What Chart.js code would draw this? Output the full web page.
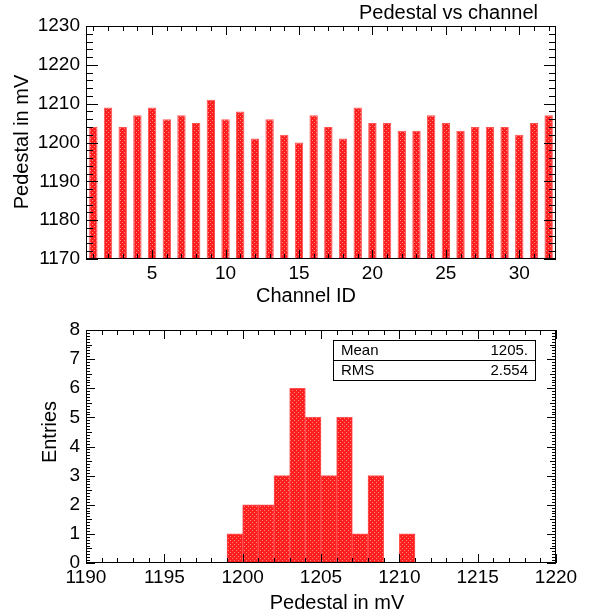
<!DOCTYPE html>
<html>
<head>
<meta charset="utf-8">
<script src="https://cdn.jsdelivr.net/npm/chart.js@4.4.0/dist/chart.umd.min.js"></script>
<style>
  body { margin: 0; background: #fff; }
  canvas { display: block; }
</style>
</head>
<body>
<canvas id="pedChart" width="589" height="310"></canvas>
<canvas id="histChart" width="589" height="305"></canvas>
<script>
// pedestal per channel
var channelIds = ['1','2','3','4','5','6','7','8','9','10','11','12','13','14','15','16',
                  '17','18','19','20','21','22','23','24','25','26','27','28','29','30','31','32'];
var pedestals = [1204, 1209, 1204, 1207, 1209, 1206, 1207, 1205, 1211, 1206, 1208, 1201, 1206, 1202, 1200, 1207,
                 1204, 1201, 1209, 1205, 1205, 1203, 1203, 1207, 1205, 1203, 1204, 1204, 1204, 1202, 1205, 1207];

// pedestal distribution, 1 mV bins
var binLowEdges = [1190, 1191, 1192, 1193, 1194, 1195, 1196, 1197, 1198, 1199,
                   1200, 1201, 1202, 1203, 1204, 1205, 1206, 1207, 1208, 1209,
                   1210, 1211, 1212, 1213, 1214, 1215, 1216, 1217, 1218, 1219];
var binCounts = [0, 0, 0, 0, 0, 0, 0, 0, 0, 1,
                 2, 2, 3, 6, 5, 3, 5, 1, 3, 0,
                 1, 0, 0, 0, 0, 0, 0, 0, 0, 0];
var statNames = ['Mean', 'RMS'];
var statValues = ['1205.', '2.554'];

var FONT = "'Liberation Sans', Arial, sans-serif";

// red dotted fill
function dotFill() {
    var c = document.createElement('canvas');
    c.width = 4; c.height = 4;
    var g = c.getContext('2d');
    g.fillStyle = '#ff1e1e';
    g.fillRect(0, 0, 4, 4);
    g.fillStyle = '#ff8a8a';
    g.fillRect(0, 0, 1, 1);
    g.fillRect(2, 2, 1, 1);
    return g.createPattern(c, 'repeat');
}

// frame around the plot area with inward ticks on all four sides
var frameTicks = {
    id: 'frameTicks',
    afterDraw: function(chart, args, opts) {
        var ctx = chart.ctx, a = chart.chartArea;
        ctx.save();
        ctx.strokeStyle = '#000';
        ctx.lineWidth = 1;
        ctx.beginPath();

        var tx = opts.x, xs = chart.scales.x;
        var n = Math.round((tx.to - tx.from) / tx.minor);
        for (var i = 0; i <= n; i++) {
            var v = tx.from + i * tx.minor;
            var len = Math.abs(v / tx.major - Math.round(v / tx.major)) < 1e-6 ? tx.majorLen : tx.minorLen;
            var px = Math.round(xs.getPixelForValue(v - tx.shift)) + 0.5;
            ctx.moveTo(px, a.bottom); ctx.lineTo(px, a.bottom - len);
            ctx.moveTo(px, a.top); ctx.lineTo(px, a.top + len);
        }

        var ty = opts.y, ys = chart.scales.y;
        n = Math.round((ty.to - ty.from) / ty.minor);
        for (i = 0; i <= n; i++) {
            v = ty.from + i * ty.minor;
            var r = v / ty.major;
            len = Math.abs(r - Math.round(r)) < 1e-6 ? ty.majorLen :
                  (ty.midLen && Math.abs(2 * r - Math.round(2 * r)) < 1e-6 ? ty.midLen : ty.minorLen);
            var py = Math.round(ys.getPixelForValue(v)) + 0.5;
            ctx.moveTo(a.left, py); ctx.lineTo(a.left + len, py);
            ctx.moveTo(a.right, py); ctx.lineTo(a.right - len, py);
        }
        ctx.stroke();
        ctx.strokeRect(Math.round(a.left) + 0.5, Math.round(a.top) + 0.5,
                       Math.round(a.right - a.left) - 1, Math.round(a.bottom - a.top) - 1);
        ctx.restore();
    }
};

// free text: titles and axis names
var texts = {
    id: 'texts',
    afterDraw: function(chart, args, opts) {
        var ctx = chart.ctx;
        ctx.save();
        ctx.fillStyle = '#000';
        ctx.font = opts.size + 'px ' + FONT;
        ctx.textBaseline = 'middle';
        opts.items.forEach(function(t) {
            ctx.save();
            ctx.translate(t.x, t.y);
            if (t.rotate) ctx.rotate(-Math.PI / 2);
            ctx.textAlign = t.align || 'center';
            ctx.fillText(t.text, 0, 0);
            ctx.restore();
        });
        ctx.restore();
    }
};

// statistics box
var statBox = {
    id: 'statBox',
    afterDraw: function(chart, args, opts) {
        var ctx = chart.ctx;
        var rowH = opts.rowH;
        ctx.save();
        ctx.fillStyle = '#fff';
        ctx.fillRect(opts.left, opts.top, opts.width, rowH * statNames.length);
        ctx.strokeStyle = '#000';
        ctx.lineWidth = 1;
        ctx.strokeRect(opts.left + 0.5, opts.top + 0.5, opts.width, rowH * statNames.length);
        ctx.font = opts.size + 'px ' + FONT;
        ctx.fillStyle = '#000';
        ctx.textBaseline = 'middle';
        for (var i = 0; i < statNames.length; i++) {
            var yc = opts.top + rowH * i + rowH / 2 + 1;
            if (i > 0) {
                ctx.beginPath();
                ctx.moveTo(opts.left, opts.top + rowH * i + 0.5);
                ctx.lineTo(opts.left + opts.width, opts.top + rowH * i + 0.5);
                ctx.stroke();
            }
            ctx.textAlign = 'left';
            ctx.fillText(statNames[i], opts.left + 8, yc);
            ctx.textAlign = 'right';
            ctx.fillText(statValues[i], opts.left + opts.width - 7, yc);
        }
        ctx.restore();
    }
};

var tickFont = { family: FONT, size: 19 };

new Chart(document.getElementById('pedChart'), {
    type: 'bar',
    data: {
        labels: channelIds,
        datasets: [{
            data: pedestals,
            backgroundColor: dotFill(),
            borderColor: '#ff5050',
            borderWidth: 1,
            borderSkipped: 'bottom',
            barPercentage: 0.57,
            categoryPercentage: 1
        }]
    },
    options: {
        responsive: false,
        animation: false,
        layout: { padding: { top: 26, right: 33, left: 0, bottom: 0 } },
        plugins: {
            legend: { display: false },
            tooltip: { enabled: false },
            frameTicks: {
                x: { from: 1, to: 32, minor: 1, major: 5, minorLen: 5, majorLen: 9, shift: 1 },
                y: { from: 1170, to: 1230, minor: 2, major: 10, minorLen: 7, majorLen: 12 }
            },
            texts: {
                size: 20,
                items: [
                    { text: 'Pedestal vs channel', x: 538, y: 13, align: 'right' },
                    { text: 'Channel ID', x: 306, y: 296 },
                    { text: 'Pedestal in mV', x: 22, y: 142, rotate: true }
                ]
            }
        },
        scales: {
            x: {
                grid: { display: false, drawTicks: false },
                border: { display: false },
                ticks: {
                    autoSkip: false, maxRotation: 0, padding: 3, color: '#000', font: tickFont,
                    callback: function(v) {
                        var n = Number(this.getLabelForValue(v));
                        return n % 5 === 0 ? String(n) : '';
                    }
                },
                afterFit: function(s) { s.height = 51; }
            },
            y: {
                min: 1170, max: 1230,
                grid: { display: false, drawTicks: false },
                border: { display: false },
                ticks: { stepSize: 10, padding: 6, color: '#000', font: tickFont,
                         callback: function(v) { return String(v); } },
                afterFit: function(s) { s.width = 86; }
            }
        }
    },
    plugins: [frameTicks, texts]
});

new Chart(document.getElementById('histChart'), {
    type: 'bar',
    data: {
        datasets: [{
            data: binLowEdges.map(function(e, i) { return { x: e + 0.5, y: binCounts[i] }; }),
            backgroundColor: dotFill(),
            borderColor: '#ff5050',
            borderWidth: function(c) { return c.raw && c.raw.y > 0 ? 1 : 0; },
            borderSkipped: 'bottom',
            barPercentage: 1,
            categoryPercentage: 1
        }]
    },
    options: {
        responsive: false,
        animation: false,
        layout: { padding: { top: 20, right: 33, left: 0, bottom: 0 } },
        plugins: {
            legend: { display: false },
            tooltip: { enabled: false },
            frameTicks: {
                x: { from: 1190, to: 1220, minor: 1, major: 5, minorLen: 5, majorLen: 9, shift: 0 },
                y: { from: 0, to: 8, minor: 0.1, major: 1, minorLen: 4, midLen: 6, majorLen: 9 }
            },
            texts: {
                size: 20,
                items: [
                    { text: 'Pedestal in mV', x: 337, y: 293 },
                    { text: 'Entries', x: 50, y: 122, rotate: true }
                ]
            },
            statBox: { left: 333, top: 30, width: 202, rowH: 20, size: 15 }
        },
        scales: {
            x: {
                type: 'linear',
                min: 1190, max: 1220,
                offset: false,
                grid: { display: false, drawTicks: false, offset: false },
                border: { display: false },
                ticks: { stepSize: 5, maxRotation: 0, padding: 3, color: '#000', font: tickFont,
                         callback: function(v) { return String(v); } },
                afterFit: function(s) { s.height = 52; }
            },
            y: {
                min: 0, max: 8,
                grid: { display: false, drawTicks: false },
                border: { display: false },
                ticks: { stepSize: 1, padding: 6, color: '#000', font: tickFont,
                         callback: function(v) { return String(v); } },
                afterFit: function(s) { s.width = 86; }
            }
        }
    },
    plugins: [frameTicks, texts, statBox]
});
</script>
</body>
</html>
